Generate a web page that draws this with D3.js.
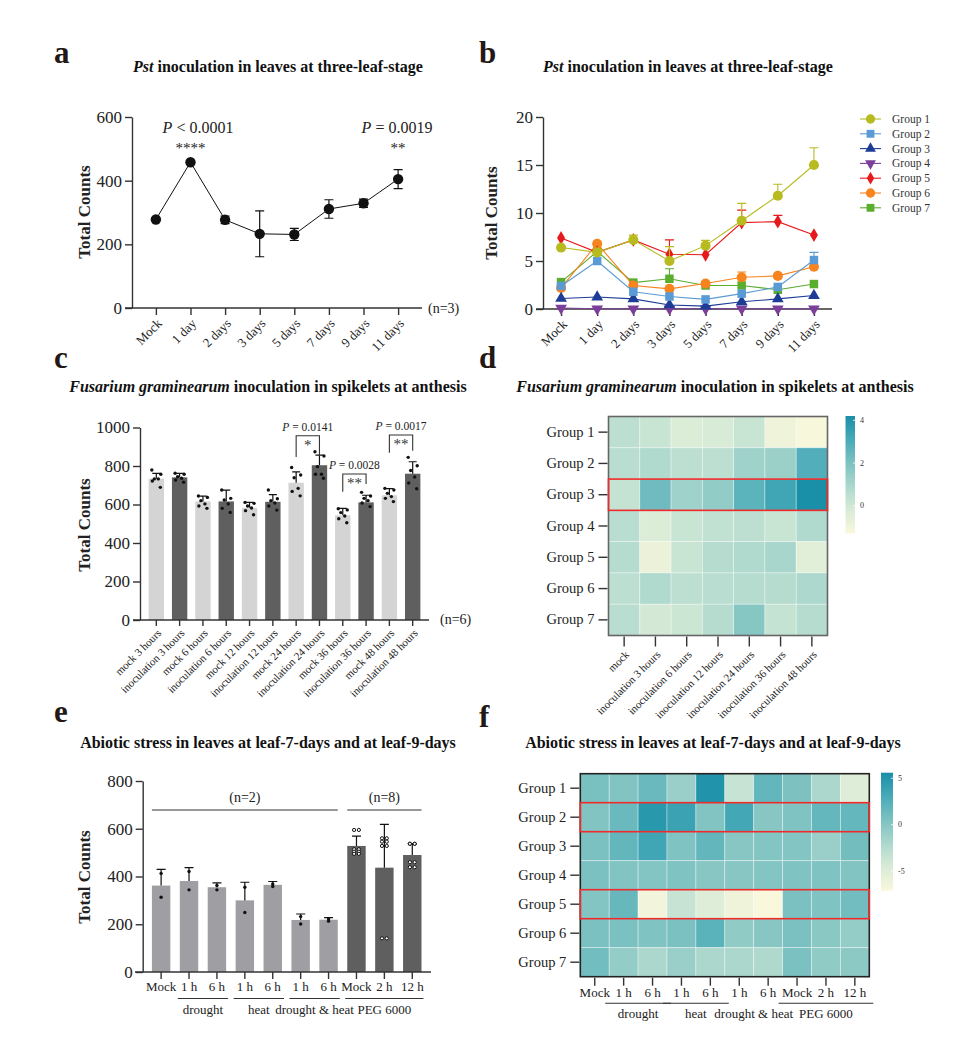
<!DOCTYPE html>
<html><head><meta charset="utf-8">
<script src="https://cdn.jsdelivr.net/npm/d3@7"></script>
<style>body{margin:0;background:#fff}</style>
</head><body>
<script>
// ---------- DATA ----------
const aCats = ["Mock","1 day","2 days","3 days","5 days","7 days","9 days","11 days"];
const aMean = [278,458,277,233,231,311,329,405];
const aSD   = [0,0,12,72,19,29,13,30];
const aTicks = [0,200,400,600];

const bGroups = ["Group 1","Group 2","Group 3","Group 4","Group 5","Group 6","Group 7"];
const bColors = ["#b8bb1f","#5b9bd5","#1c3c96","#7b3f9a","#e8191c","#f7841f","#5bad2e"];
const bG1 = [6.4,5.9,7.2,5.0,6.6,9.2,11.8,15.0];
const bG2 = [2.4,5.0,1.8,1.3,1.0,1.6,2.3,5.1];
const bG3 = [1.1,1.25,1.05,0.42,0.3,0.75,1.05,1.4];
const bG4 = [0.1,0.02,0.02,0.02,0.02,0.02,0.02,0.02];
const bG5 = [7.4,5.9,7.2,5.7,5.65,9.0,9.1,7.7];
const bG6 = [2.2,6.8,2.45,2.1,2.65,3.3,3.45,4.4];
const bG7 = [2.8,6.0,2.75,3.15,2.45,2.45,2.0,2.6];
const bErr1 = [0,0,0.5,1.5,0.55,1.8,1.2,1.8];
const bErr2 = [0,0,0,0,0,0,0,0.8];
const bErr5 = [0,0,0,1.5,0,1.3,0.65,0];
const bErr6 = [0,0,0,0,0,0.55,0,0];
const bErr7 = [0,0,0,1.05,0,0,0,0];
const bTicks = [0,5,10,15,20];

const cCats = ["mock 3 hours","inoculation 3 hours","mock 6 hours","inoculation 6 hours","mock 12 hours","inoculation 12 hours","mock 24 hours","inoculation 24 hours","mock 36 hours","inoculation 36 hours","mock 48 hours","inoculation 48 hours"];
const cMean = [734,741,616,616,583,614,713,804,544,611,648,760];
const cSD   = [28,21,28,59,28,37,57,53,36,37,34,62];
const cPoints = [
 [779,757,733,733,722,689],[762,757,744,736,727,716],[644,637,620,603,592,580],
 [675,632,623,603,580,559],[611,606,592,582,568,547],[675,630,620,608,592,571],
 [792,753,739,684,668,645],[874,852,797,757,757,736],[578,572,558,540,526,505],
 [663,644,632,620,608,589],[684,675,658,641,632,615],[845,801,777,743,712,682]];
const cTicks = [0,200,400,600,800,1000];

const dRows = ["Group 1","Group 2","Group 3","Group 4","Group 5","Group 6","Group 7"];
const dCols = ["mock","inoculation 3 hours","inoculation 6 hours","inoculation 12 hours","inoculation 24 hours","inoculation 36 hours","inoculation 48 hours"];
const dValues = [
 [0.5,0.2,-0.3,-0.2,0.2,-0.9,-1.2],
 [0.6,0.8,0.5,0.5,1.2,1.3,2.9],
 [0.3,2.3,1.2,1.5,2.7,3.3,4.2],
 [0.6,-0.3,0.2,0.4,0.5,0.2,0.8],
 [0.7,-0.8,0.2,0.7,0.8,1.0,-0.5],
 [0.5,0.8,0.5,0.6,0.7,0.7,0.9],
 [0.6,-0.1,0.1,0.7,1.8,0.3,0.7]];
const dLegendTicks = [0,2,4];

const eCats = ["Mock","1 h","6 h","1 h ","6 h ","1 h  ","6 h  ","Mock ","2 h","12 h"];
const eMean = [362,381,355,300,365,218,219,528,437,490];
const eErr  = [68,56,18,76,14,25,9,41,181,48];
const ePoints = [[413,313],[421,344],[362,344],[355,249],[369,358],[232,201],[222,213],
 [595,595,514,514,504,504,495,495],[560,560,546,546,528,528,141,141],[537,537,537,537,460,460,439,439]];
const eTicks = [0,200,400,600,800];
const eGroupLabels = ["drought","heat","drought & heat","PEG 6000"];

const fRows = ["Group 1","Group 2","Group 3","Group 4","Group 5","Group 6","Group 7"];
const fCols = ["Mock","1 h","6 h","1 h ","6 h ","1 h  ","6 h  ","Mock ","2 h","12 h"];
const fValues = [
 [0.7,0.3,1.5,-1.0,5.2,-3.5,1.8,0.5,-2.0,-5.0],
 [0.3,1.5,4.8,3.8,0.3,3.3,0.0,0.4,1.7,1.7],
 [0.6,1.8,3.5,0.4,1.8,0.0,0.2,0.2,-1.0,1.0],
 [0.6,0.3,0.2,0.4,0.0,0.0,0.2,0.4,0.4,0.3],
 [0.2,1.6,-6.5,-3.5,-5.0,-6.2,-7.0,0.6,0.4,1.1],
 [0.6,0.6,0.4,0.6,2.2,-0.5,0.0,0.6,-0.2,-0.7],
 [1.1,-0.7,-2.0,-1.0,-2.0,-2.0,-2.2,0.6,-0.5,-0.3]];
const fLegendTicks = [-5,0,5];

const heatColors = ["#faf8dc","#d8ebd6","#b8ddd0","#7dc2c1","#48aab8","#1a8fa8"];
const heatStops = [0,0.2,0.35,0.6,0.8,1];

// ---------- SETUP ----------
const SERIF = "'Liberation Serif','Times New Roman',serif";
const svg = d3.select("body").append("svg").attr("width",976).attr("height",1054)
  .style("background","#fff").attr("font-family",SERIF);
svg.append("rect").attr("width",976).attr("height",1054).attr("fill","#fff");

function styleAxis(g, fs){
  g.attr("font-family",SERIF).attr("font-size",fs);
  g.select(".domain").attr("stroke","#333").attr("stroke-width",1.4);
  g.selectAll(".tick line").attr("stroke","#333").attr("stroke-width",1.4);
  g.selectAll("text").attr("font-family",SERIF).attr("fill","#222").attr("font-size",fs);
}
function letter(t,x,y){
  svg.append("text").attr("x",x).attr("y",y).attr("font-size",31).attr("font-weight","bold").attr("fill","#231815").text(t);
}
function title(parts,cx,y){
  const t = svg.append("text").attr("x",cx).attr("y",y).attr("text-anchor","middle")
    .attr("font-size",16).attr("font-weight","bold").attr("fill","#111");
  parts.forEach(p=>t.append("tspan").attr("font-style",p[1]?"italic":"normal").text(p[0]));
}
function ylabel(x,y){
  svg.append("text").attr("transform",`translate(${x},${y}) rotate(-90)`).attr("text-anchor","middle")
    .attr("font-size",17).attr("font-weight","bold").attr("fill","#222").text("Total Counts");
}
function pText(x,y,rest,fs){
  const t = svg.append("text").attr("x",x).attr("y",y).attr("text-anchor","middle").attr("font-size",fs).attr("fill","#222");
  t.append("tspan").attr("font-style","italic").text("P");
  t.append("tspan").text(rest);
}
function rotLabels(g, fs){
  g.selectAll(".tick text").attr("text-anchor","end").attr("x",0).attr("y",0).attr("dy","0.35em")
    .attr("transform","translate(3,13) rotate(-45)").attr("font-size",fs);
}
const fmt = d3.format("d");

// ---------- PANEL A ----------
letter("a",54,63);
title([["Pst",true],[" inoculation in leaves at three-leaf-stage",false]],278,72);
ylabel(90,212);
{
  const x = d3.scalePoint().domain(aCats).range([132,422]).padding(0.69);
  const y = d3.scaleLinear().domain([0,600]).range([308,117]);
  const gy = svg.append("g").attr("transform","translate(132,0)")
    .call(d3.axisLeft(y).tickValues(aTicks).tickFormat(fmt).tickSize(7).tickSizeOuter(0).tickPadding(3));
  styleAxis(gy,17);
  const gx = svg.append("g").attr("transform","translate(0,308)")
    .call(d3.axisBottom(x).tickSize(7).tickSizeOuter(0));
  gx.select(".domain").attr("d","M125,0H422");
  styleAxis(gx,13); rotLabels(gx,13);
  svg.append("text").attr("x",428).attr("y",313).attr("font-size",14).attr("fill","#222").text("(n=3)");
  const line = d3.line().x((d,i)=>x(aCats[i])).y(d=>y(d));
  svg.append("path").datum(aMean).attr("d",line).attr("fill","none").attr("stroke","#111").attr("stroke-width",1);
  aMean.forEach((m,i)=>{
    if(aSD[i]>0){
      const cx=x(aCats[i]);
      svg.append("path").attr("d",`M${cx},${y(m+aSD[i])}V${y(m-aSD[i])}M${cx-4.5},${y(m+aSD[i])}H${cx+4.5}M${cx-4.5},${y(m-aSD[i])}H${cx+4.5}`)
        .attr("stroke","#111").attr("stroke-width",1.2).attr("fill","none");
    }
  });
  svg.selectAll(null).data(aMean).enter().append("circle").attr("cx",(d,i)=>x(aCats[i])).attr("cy",d=>y(d)).attr("r",5.2).attr("fill","#111");
  pText(198,133," < 0.0001",16);
  svg.append("text").attr("x",x("1 day")).attr("y",153).attr("text-anchor","middle").attr("font-size",15).attr("fill","#222").text("****");
  pText(397,133,"  =  0.0019",16);
  svg.append("text").attr("x",x("11 days")).attr("y",153).attr("text-anchor","middle").attr("font-size",15).attr("fill","#222").text("**");
}

// ---------- PANEL B ----------
letter("b",479,63);
title([["Pst",true],[" inoculation in leaves at three-leaf-stage",false]],688,72);
ylabel(497,213);
{
  const x = d3.scalePoint().domain(aCats).range([543,832]).padding(0.5);
  const y = d3.scaleLinear().domain([0,20]).range([309,117]);
  const gy = svg.append("g").attr("transform","translate(543,0)")
    .call(d3.axisLeft(y).tickValues(bTicks).tickFormat(fmt).tickSize(7).tickSizeOuter(0).tickPadding(3));
  styleAxis(gy,17);
  const gx = svg.append("g").attr("transform","translate(0,309)")
    .call(d3.axisBottom(x).tickSize(7).tickSizeOuter(0));
  gx.select(".domain").attr("d","M536,0H832");
  styleAxis(gx,13); rotLabels(gx,13);
  const series = [bG1,bG2,bG3,bG4,bG5,bG6,bG7];
  const errs = [bErr1,bErr2,null,null,bErr5,bErr6,bErr7];
  const syms = [d3.symbolCircle,d3.symbolSquare,d3.symbolTriangle,d3.symbolTriangle,d3.symbolDiamond,d3.symbolCircle,d3.symbolSquare];
  const sizes = [80,72,60,60,55,80,72];
  const rots = [0,0,0,180,0,0,0];
  const line = d3.line().x((d,i)=>x(aCats[i])).y(d=>y(d));
  for(let k=series.length-1;k>=0;k--){
    const col=bColors[k];
    svg.append("path").datum(series[k]).attr("d",line).attr("fill","none").attr("stroke",col).attr("stroke-width",1.1);
    if(errs[k]) errs[k].forEach((e,i)=>{
      if(e>0){const cx=x(aCats[i]),v=series[k][i];
        svg.append("path").attr("d",`M${cx},${y(v)}V${y(v+e)}M${cx-4.5},${y(v+e)}H${cx+4.5}`).attr("stroke",col).attr("stroke-width",1.1).attr("fill","none");}
    });
    svg.selectAll(null).data(series[k]).enter().append("path")
      .attr("d",d3.symbol().type(syms[k]).size(sizes[k]))
      .attr("transform",(d,i)=>`translate(${x(aCats[i])},${y(d)}) rotate(${rots[k]})`).attr("fill",col);
  }
  bGroups.forEach((g,k)=>{
    const ly = 119 + k*14.8;
    svg.append("line").attr("x1",860).attr("x2",881).attr("y1",ly).attr("y2",ly).attr("stroke",bColors[k]).attr("stroke-width",1.1);
    svg.append("path").attr("d",d3.symbol().type(syms[k]).size(sizes[k]*0.85)).attr("transform",`translate(870.5,${ly}) rotate(${rots[k]})`).attr("fill",bColors[k]);
    svg.append("text").attr("x",892).attr("y",ly+4).attr("font-size",11.5).attr("fill","#333").text(g);
  });
}

// ---------- PANEL C ----------
letter("c",54,368);
title([["Fusarium graminearum",true],[" inoculation in spikelets at anthesis",false]],268,392);
ylabel(90,525);
{
  const x = d3.scaleBand().domain(cCats).range([140,429]).paddingInner(0.34).paddingOuter(0.37);
  const y = d3.scaleLinear().domain([0,1000]).range([620,427.5]);
  const bw = x.bandwidth();
  svg.selectAll(null).data(cMean).enter().append("rect")
    .attr("x",(d,i)=>x(cCats[i])).attr("width",bw).attr("y",d=>y(d)).attr("height",d=>620-y(d))
    .attr("fill",(d,i)=>i%2===0?"#d4d4d4":"#5f5f5f");
  cMean.forEach((m,i)=>{
    const cx=x(cCats[i])+bw/2;
    svg.append("path").attr("d",`M${cx},${y(m)}V${y(m+cSD[i])}M${cx-4},${y(m+cSD[i])}H${cx+4}`).attr("stroke","#111").attr("stroke-width",1.2).attr("fill","none");
    const offs=[-4.5,4.5,-2,2,-4,4];
    cPoints[i].forEach((p,j)=>svg.append("circle").attr("cx",cx+offs[j]).attr("cy",y(p)).attr("r",1.7).attr("fill","#111"));
  });
  const gy = svg.append("g").attr("transform","translate(140,0)")
    .call(d3.axisLeft(y).tickValues(cTicks).tickFormat(fmt).tickSize(7).tickSizeOuter(0).tickPadding(3));
  styleAxis(gy,17);
  const gx = svg.append("g").attr("transform","translate(0,620)")
    .call(d3.axisBottom(x).tickSize(6).tickSizeOuter(0));
  gx.select(".domain").attr("d","M133,0H429");
  styleAxis(gx,11); rotLabels(gx,11);
  gx.selectAll(".tick text").attr("transform","translate(3,11) rotate(-45)");
  svg.append("text").attr("x",440).attr("y",624).attr("font-size",14).attr("fill","#222").text("(n=6)");
  const br = [[6,7,435.7,457,456,"*",0.0141],[8,9,474,491.7,484,"**",0.0028],[10,11,435,452.7,450.7,"**",0.0017]];
  br.forEach(b=>{
    const x1=x(cCats[b[0]])+bw/2, x2=x(cCats[b[1]])+bw/2;
    svg.append("path").attr("d",`M${x1},${b[3]}V${b[2]}H${x2}V${b[4]}`).attr("stroke","#333").attr("stroke-width",1.1).attr("fill","none");
    svg.append("text").attr("x",(x1+x2)/2).attr("y",b[2]+14).attr("text-anchor","middle").attr("font-size",15).attr("fill","#333").text(b[5]);
    pText((x1+x2)/2,b[2]-5," = "+b[6].toFixed(4),11.5);
  });
}

// ---------- HEATMAP helper ----------
function heatmap(opts){
  const {rows,cols,vals,x0,x1,y0,y1,min,max,ticks,cb,redRows,frame,rowFs,colRot,colFs} = opts;
  const color = d3.scaleLinear().domain(heatStops.map(t=>min+t*(max-min))).range(heatColors).clamp(true);
  const x = d3.scaleBand().domain(cols).range([x0,x1]);
  const y = d3.scaleBand().domain(rows).range([y0,y1]);
  vals.forEach((row,r)=>row.forEach((v,c)=>{
    svg.append("rect").attr("x",x(cols[c])).attr("y",y(rows[r])).attr("width",x.bandwidth()).attr("height",y.bandwidth())
      .attr("fill",color(v)).attr("stroke","rgba(255,255,255,0.45)").attr("stroke-width",0.8);
  }));
  svg.append("rect").attr("x",x0).attr("y",y0).attr("width",x1-x0).attr("height",y1-y0).attr("fill","none").attr("stroke",frame).attr("stroke-width",1.6);
  redRows.forEach(r=>svg.append("rect").attr("x",x0).attr("y",y(rows[r])).attr("width",x1-x0).attr("height",y.bandwidth())
    .attr("fill","none").attr("stroke","#ee2a2a").attr("stroke-width",1.6));
  const gy = svg.append("g").attr("transform",`translate(${x0-1},0)`).call(d3.axisLeft(y).tickSize(9).tickSizeOuter(0).tickPadding(4));
  gy.select(".domain").remove(); styleAxis(gy,rowFs);
  const gx = svg.append("g").attr("transform",`translate(0,${y1+1})`).call(d3.axisBottom(x).tickSize(colRot?10:8).tickSizeOuter(0).tickPadding(colRot?3:2));
  gx.select(".domain").remove(); styleAxis(gx,colFs);
  if(colRot){ gx.selectAll(".tick text").attr("text-anchor","end").attr("x",0).attr("y",0).attr("dy","0.35em").attr("transform","translate(3,16) rotate(-45)"); }
  const gid = "g"+Math.round(x0);
  const grad = svg.append("defs").append("linearGradient").attr("id",gid).attr("x1",0).attr("x2",0).attr("y1",1).attr("y2",0);
  heatStops.forEach((t,i)=>grad.append("stop").attr("offset",t).attr("stop-color",heatColors[i]));
  const cy = d3.scaleLinear().domain([min,max]).range([cb.y1,cb.y0]);
  svg.append("rect").attr("x",cb.x).attr("y",cb.y0).attr("width",cb.w).attr("height",cb.y1-cb.y0).attr("fill",`url(#${gid})`);
  ticks.forEach(t=>{
    svg.append("line").attr("x1",cb.x+cb.w-2).attr("x2",cb.x+cb.w).attr("y1",cy(t)).attr("y2",cy(t)).attr("stroke","#fff").attr("stroke-width",0.8);
    svg.append("text").attr("x",cb.x+cb.w+5).attr("y",cy(t)+2.5).attr("font-size",8).attr("fill","#333").text(t);
  });
  return x;
}

// ---------- PANEL D ----------
letter("d",479,368);
title([["Fusarium graminearum",true],[" inoculation in spikelets at anthesis",false]],715,392);
heatmap({rows:dRows,cols:dCols,vals:dValues,x0:608.5,x1:827.5,y0:416.5,y1:635.5,min:-1.3,max:4.2,
  ticks:dLegendTicks,cb:{x:845.5,w:9.5,y0:416,y1:533.5},redRows:[2],frame:"#666",rowFs:14.5,colRot:true,colFs:11});

// ---------- PANEL E ----------
letter("e",54,722);
title([["Abiotic stress in leaves at leaf-7-days and at leaf-9-days",false]],268,748);
ylabel(90,877);
{
  const x = d3.scaleBand().domain(eCats).range([142.7,430.7]).paddingInner(0.34).paddingOuter(0.33);
  const y = d3.scaleLinear().domain([0,800]).range([972,781]);
  const bw = x.bandwidth();
  svg.selectAll(null).data(eMean).enter().append("rect")
    .attr("x",(d,i)=>x(eCats[i])).attr("width",bw).attr("y",d=>y(d)).attr("height",d=>972-y(d))
    .attr("fill",(d,i)=>i<7?"#9e9ea3":"#5f5f5f");
  eMean.forEach((m,i)=>{
    const cx=x(eCats[i])+bw/2;
    svg.append("path").attr("d",`M${cx},${y(m)}V${y(m+eErr[i])}M${cx-4.5},${y(m+eErr[i])}H${cx+4.5}`).attr("stroke","#111").attr("stroke-width",1.2).attr("fill","none");
    const n=ePoints[i].length;
    ePoints[i].forEach((p,j)=>{
      const ox = n===2 ? 0 : (j%2===0?-2.4:2.4);
      svg.append("circle").attr("cx",cx+ox).attr("cy",y(p)).attr("r",n===2?1.7:1.6)
        .attr("fill",n===2?"#111":"#fff").attr("stroke","#111").attr("stroke-width",n===2?0:1);
    });
  });
  const gy = svg.append("g").attr("transform","translate(142.7,0)")
    .call(d3.axisLeft(y).tickValues(eTicks).tickFormat(fmt).tickSize(7).tickSizeOuter(0).tickPadding(3));
  styleAxis(gy,17);
  const gx = svg.append("g").attr("transform","translate(0,972)")
    .call(d3.axisBottom(x).tickSize(7).tickSizeOuter(0).tickPadding(3));
  gx.select(".domain").attr("d","M135,0H431");
  styleAxis(gx,13);
  svg.append("line").attr("x1",x(eCats[0])).attr("x2",x(eCats[6])+bw).attr("y1",810).attr("y2",810).attr("stroke","#333").attr("stroke-width",1.1);
  svg.append("line").attr("x1",x(eCats[7])).attr("x2",x(eCats[9])+bw).attr("y1",810).attr("y2",810).attr("stroke","#333").attr("stroke-width",1.1);
  svg.append("text").attr("x",(x(eCats[0])+x(eCats[6])+bw)/2).attr("y",802).attr("text-anchor","middle").attr("font-size",14).attr("fill","#222").text("(n=2)");
  svg.append("text").attr("x",(x(eCats[7])+x(eCats[9])+bw)/2).attr("y",802).attr("text-anchor","middle").attr("font-size",14).attr("fill","#222").text("(n=8)");
  const spans=[[1,2],[3,4],[5,6],[7,9]];
  spans.forEach((s,k)=>{
    const a=x(eCats[s[0]])-2, b=x(eCats[s[1]])+bw+2;
    svg.append("line").attr("x1",a).attr("x2",b).attr("y1",998.5).attr("y2",998.5).attr("stroke","#333").attr("stroke-width",1.1);
    svg.append("text").attr("x",(a+b)/2).attr("y",1013.5).attr("text-anchor","middle").attr("font-size",13).attr("fill","#222").text(eGroupLabels[k]);
  });
}

// ---------- PANEL F ----------
letter("f",479,727);
title([["Abiotic stress in leaves at leaf-7-days and at leaf-9-days",false]],713,748);
{
  const x = heatmap({rows:fRows,cols:fCols,vals:fValues,x0:580.3,x1:869.3,y0:773.7,y1:976.7,min:-7.1,max:5.6,
    ticks:fLegendTicks,cb:{x:881,w:12,y0:772.7,y1:890.7},redRows:[1,4],frame:"#222",rowFs:14.5,colRot:false,colFs:13});
  const bw=x.bandwidth();
  const spans=[[1,2,true],[3,4,true],[5,6,false],[7,9,true]];
  spans.forEach((s,k)=>{
    const a=x(fCols[s[0]])+4, b=x(fCols[s[1]])+bw-4;
    if(s[2]) svg.append("line").attr("x1",a-8).attr("x2",b+8).attr("y1",1003.3).attr("y2",1003.3).attr("stroke","#333").attr("stroke-width",1.1);
    svg.append("text").attr("x",(a+b)/2).attr("y",1018).attr("text-anchor","middle").attr("font-size",13).attr("fill","#222").text(eGroupLabels[k]);
  });
}
</script>
</body></html>
